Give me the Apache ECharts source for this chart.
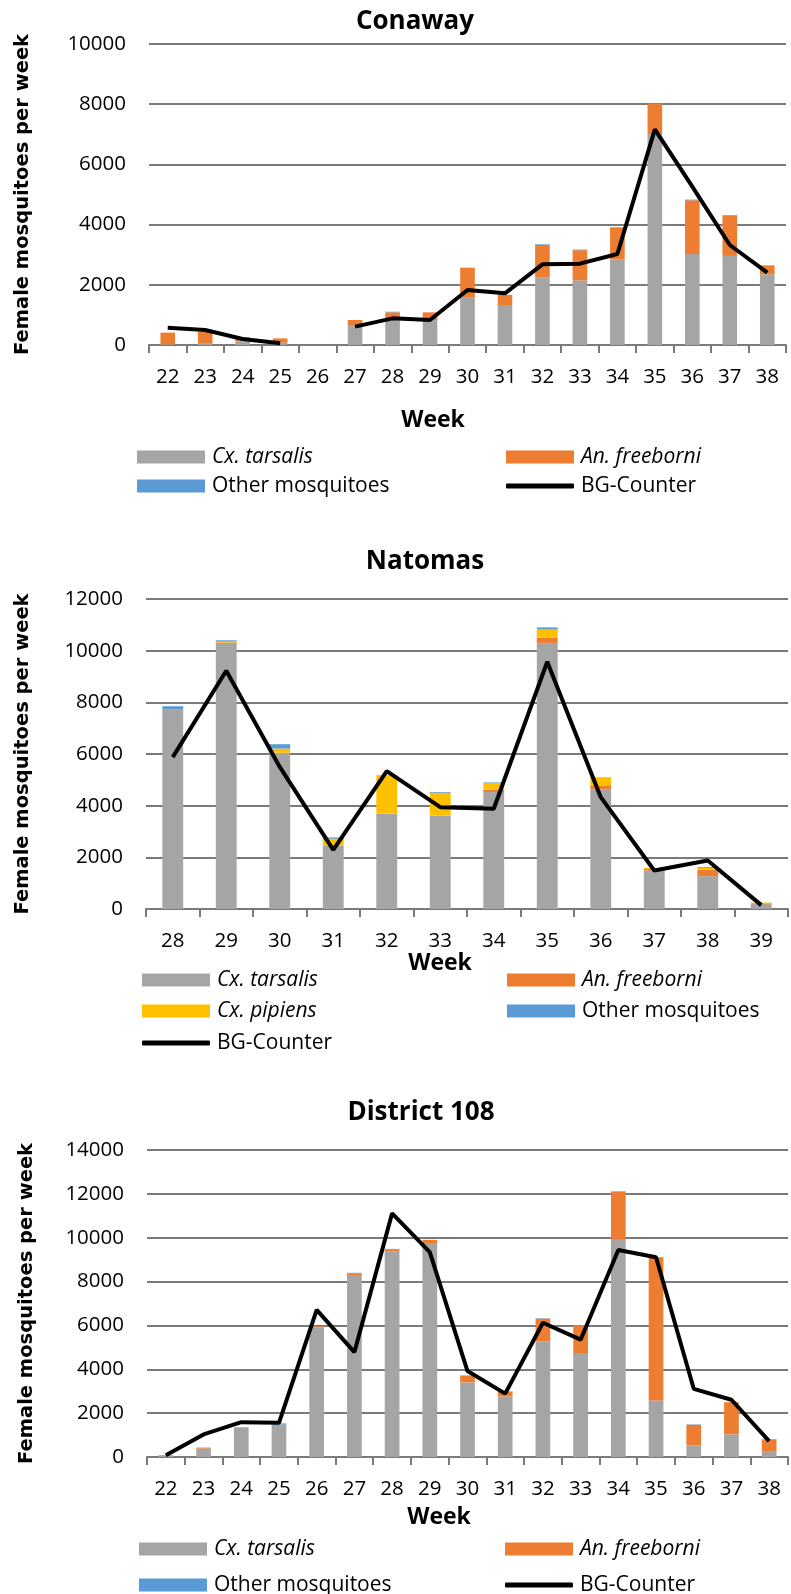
<!DOCTYPE html>
<html>
<head>
<meta charset="utf-8">
<script src="https://cdn.jsdelivr.net/npm/echarts@6/dist/echarts.min.js"></script>
<style>
html,body{margin:0;padding:0;background:#fff;}
#chart{width:791px;height:1594px;}
</style>
</head>
<body>
<div id="chart"></div>
<script>
// ---------- Conaway ----------
const conawayWeeks = ['22','23','24','25','26','27','28','29','30','31','32','33','34','35','36','37','38'];
const conawayTarsalis = [20, 40, 120, 80, 0, 665, 885, 830, 1570, 1300, 2250, 2150, 2850, 7010, 3020, 2960, 2350];
const conawayFreeborni = [390, 400, 135, 140, 0, 165, 200, 255, 1000, 365, 1080, 1000, 1060, 1000, 1790, 1340, 275];
const conawayOther = [0, 0, 0, 0, 0, 0, 20, 0, 0, 0, 20, 20, 0, 20, 20, 20, 20];
const conawayBG = [576, 498, 199, 55, null, 609, 886, 830, 1827, 1716, 2680, 2702, 3023, 7165, 5260, 3322, 2403];
const conawayTicks = [0, 2000, 4000, 6000, 8000, 10000];

// ---------- Natomas ----------
const natomasWeeks = ['28','29','30','31','32','33','34','35','36','37','38','39'];
const natomasTarsalis = [7720, 10300, 6040, 2460, 3690, 3620, 4530, 10300, 4620, 1490, 1270, 190];
const natomasFreeborni = [0, 20, 10, 10, 0, 0, 90, 200, 140, 60, 250, 30];
const natomasPipiens = [0, 30, 160, 250, 1460, 880, 260, 320, 310, 40, 70, 30];
const natomasOther = [130, 50, 170, 50, 20, 30, 20, 80, 20, 0, 30, 0];
const natomasBG = [5880, 9220, 5500, 2290, 5340, 3940, 3880, 9570, 4330, 1490, 1880, 150];
const natomasTicks = [0, 2000, 4000, 6000, 8000, 10000, 12000];

// ---------- District 108 ----------
const d108Weeks = ['22','23','24','25','26','27','28','29','30','31','32','33','34','35','36','37','38'];
const d108Tarsalis = [50, 380, 1340, 1480, 5920, 8300, 9380, 9720, 3400, 2760, 5270, 4740, 9900, 2580, 530, 1030, 270];
const d108Freeborni = [0, 50, 0, 0, 40, 80, 70, 180, 320, 230, 1040, 1260, 2200, 6530, 940, 1470, 530];
const d108Other = [30, 0, 20, 50, 0, 20, 40, 0, 0, 0, 20, 0, 20, 0, 20, 0, 20];
const d108BG = [80, 1030, 1590, 1560, 6710, 4780, 11110, 9340, 3920, 2890, 6120, 5350, 9440, 9110, 3110, 2610, 720];
const d108Ticks = [0, 2000, 4000, 6000, 8000, 10000, 12000, 14000];

const titles = ['Conaway', 'Natomas', 'District 108'];
const yName = 'Female mosquitoes per week';
const xName = 'Week';

const C_GRAY = '#A5A5A5', C_ORANGE = '#ED7D31', C_YELLOW = '#FFC000', C_BLUE = '#5B9BD5';
const GRID_COLOR = '#7a7a7a';
const FONT = '"Open Sans", Lato, sans-serif';

const grids = [
  {left: 149, right: 5, top: 44, height: 301},
  {left: 146, right: 3, top: 599, height: 310},
  {left: 147, right: 3, top: 1150, height: 307}
];
const weekLists = [conawayWeeks, natomasWeeks, d108Weeks];
const tickLists = [conawayTicks, natomasTicks, d108Ticks];

const xAxes = weekLists.map((w, i) => ({
  type: 'category', gridIndex: i, data: w,
  axisLine: {show: true, lineStyle: {color: GRID_COLOR, width: 2}},
  axisTick: {show: true, interval: 0, length: 8, lineStyle: {color: GRID_COLOR, width: 2}},
  axisLabel: {interval: 0, margin: 22, color: '#000', fontSize: 20.5, fontFamily: FONT},
  splitLine: {show: false}
}));
const yNameGaps = [116, 113, 110];
const yAxes = tickLists.map((t, i) => ({
  type: 'value', gridIndex: i, min: t[0], max: t[t.length - 1], interval: t[1] - t[0],
  name: yName, nameLocation: 'middle', nameGap: yNameGaps[i], nameRotate: 90,
  nameTextStyle: {fontFamily: '"DejaVu Sans", sans-serif', fontWeight: 'bold', fontSize: 19.5, color: '#000'},
  axisLine: {show: false}, axisTick: {show: false},
  axisLabel: {margin: 23, color: '#000', fontSize: 20.5, fontFamily: FONT,
    formatter: function (v) { return String(v); }},
  splitLine: {show: true, lineStyle: {color: GRID_COLOR, width: 2}}
}));

function bar(name, data, color, idx) {
  return {type: 'bar', name: name, data: data, xAxisIndex: idx, yAxisIndex: idx,
    stack: 'st' + idx, barWidth: '39%', itemStyle: {color: color}, emphasis: {disabled: true}};
}
function line(data, idx) {
  return {type: 'line', name: 'BG-Counter', data: data, xAxisIndex: idx, yAxisIndex: idx,
    symbol: 'none', lineStyle: {color: '#000', width: 4}, itemStyle: {color: '#000'}, z: 5,
    connectNulls: false, emphasis: {disabled: true}};
}

const series = [
  bar('Cx. tarsalis', conawayTarsalis, C_GRAY, 0),
  bar('An. freeborni', conawayFreeborni, C_ORANGE, 0),
  bar('Other mosquitoes', conawayOther, C_BLUE, 0),
  line(conawayBG, 0),
  bar('Cx. tarsalis', natomasTarsalis, C_GRAY, 1),
  bar('An. freeborni', natomasFreeborni, C_ORANGE, 1),
  bar('Cx. pipiens', natomasPipiens, C_YELLOW, 1),
  bar('Other mosquitoes', natomasOther, C_BLUE, 1),
  line(natomasBG, 1),
  bar('Cx. tarsalis', d108Tarsalis, C_GRAY, 2),
  bar('An. freeborni', d108Freeborni, C_ORANGE, 2),
  bar('Other mosquitoes', d108Other, C_BLUE, 2),
  line(d108BG, 2)
];

const italicNames = {'Cx. tarsalis': 1, 'An. freeborni': 1, 'Cx. pipiens': 1};
function legendItem(name, left, centerY) {
  const isLine = name === 'BG-Counter';
  return {
    left: left, top: centerY - 12, padding: 0, orient: 'horizontal',
    selectedMode: false,
    itemWidth: 68, itemHeight: isLine ? 5 : 13,
    icon: isLine ? 'roundRect' : 'rect',
    textStyle: {fontFamily: FONT, fontSize: 21, color: '#000', lineHeight: 24,
      fontStyle: italicNames[name] ? 'italic' : 'normal', padding: [0, 0, 0, 2]},
    data: [{name: name, itemStyle: isLine ? {color: '#000'} : undefined}]
  };
}
const legends = [
  legendItem('Cx. tarsalis', 137, 457),
  legendItem('An. freeborni', 506, 457),
  legendItem('Other mosquitoes', 137, 486),
  legendItem('BG-Counter', 506, 486),
  legendItem('Cx. tarsalis', 142, 980),
  legendItem('An. freeborni', 507, 980),
  legendItem('Cx. pipiens', 142, 1011),
  legendItem('Other mosquitoes', 507, 1011),
  legendItem('BG-Counter', 142, 1043),
  legendItem('Cx. tarsalis', 139, 1549),
  legendItem('An. freeborni', 505, 1549),
  legendItem('Other mosquitoes', 139, 1585),
  legendItem('BG-Counter', 505, 1585)
];

function txt(text, x, y, size) {
  return {type: 'text', x: x, y: y, silent: true,
    style: {text: text, fill: '#000', font: 'bold ' + size + 'px ' + FONT, textAlign: 'center', textVerticalAlign: 'middle'}};
}
const graphics = [
  txt(titles[0], 415, 22, 26),
  txt(titles[1], 425, 562, 26),
  txt(titles[2], 421, 1113, 26),
  txt(xName, 433, 420, 23),
  txt(xName, 440, 963, 23),
  txt(xName, 439, 1517, 23)
];

const chart = echarts.init(document.getElementById('chart'), null, {renderer: 'canvas'});
chart.setOption({
  animation: false,
  backgroundColor: '#fff',
  grid: grids,
  xAxis: xAxes,
  yAxis: yAxes,
  legend: legends,
  series: series,
  graphic: graphics
});
</script>
</body>
</html>
